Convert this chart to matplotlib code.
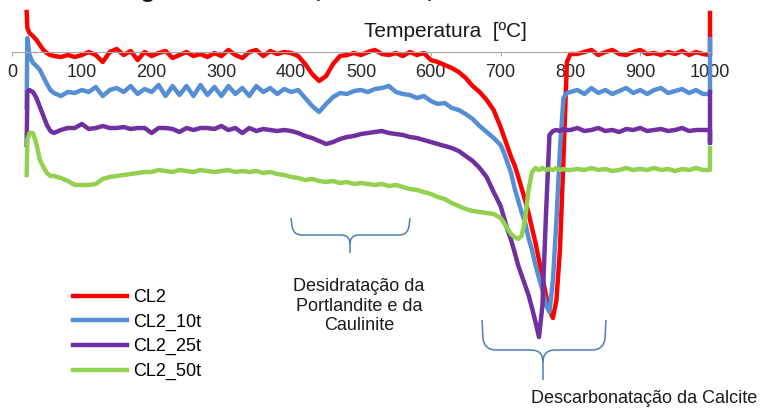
import numpy as np
import matplotlib.pyplot as plt
from matplotlib.path import Path
from matplotlib.patches import PathPatch
from matplotlib.transforms import Affine2D

plt.rcParams['font.family'] = ['Liberation Sans', 'DejaVu Sans']

W, H = 763, 408

# temperatura [ºC] (3 pontos em 1000 para o salto final)
temperatura = np.concatenate([[21, 22, 25, 30, 35, 40, 45, 50, 55, 60],
                              np.arange(70, 701, 10),
                              np.arange(705, 801, 5),
                              np.arange(810, 1001, 10),
                              [1000, 1000]])

cl2 = [
    0.40, 0.24, 0.19, 0.16, 0.12, 0.07, 0.02, -0.01, -0.03, -0.04,
    -0.05, -0.03, -0.05, -0.03, 0.00, -0.03, -0.10, 0.00, 0.03, -0.03,
    0.01, -0.08, 0.00, -0.04, -0.01, 0.01, -0.06, -0.03, 0.00, -0.04,
    -0.02, -0.05, -0.01, -0.04, 0.02, -0.03, -0.06, 0.00, 0.02, -0.04,
    0.01, -0.02, 0.00, -0.01,
    -0.04, -0.12, -0.22, -0.29, -0.24, -0.12, -0.04, -0.03, -0.01, -0.03,
    0.00, 0.02, -0.02, -0.03, -0.01, -0.04, 0.00, -0.03, -0.01, -0.08,
    -0.10, -0.13, -0.16, -0.20, -0.26, -0.34, -0.40, -0.48, -0.58, -0.75,
    -0.85, -0.95, -1.05, -1.13, -1.24, -1.36, -1.48, -1.61, -1.76, -1.91,
    -2.08, -2.26, -2.43, -2.58, -2.66, -2.48, -1.98, -1.08, -0.10, -0.02,
    -0.02, 0.00, 0.02, -0.03, 0.00, 0.02, -0.02, -0.03, 0.00, 0.02,
    -0.02, -0.01, -0.03, 0.00, -0.02, 0.01, -0.03, 0.00, -0.02, -0.03,
    -0.03, 0.39]

cl2_10t = [
    -0.55, 0.14, -0.03, -0.11, -0.14, -0.18, -0.25, -0.32, -0.38, -0.41,
    -0.44, -0.40, -0.41, -0.38, -0.40, -0.35, -0.44, -0.38, -0.36, -0.40,
    -0.34, -0.42, -0.37, -0.40, -0.33, -0.44, -0.34, -0.43, -0.34, -0.44,
    -0.33, -0.43, -0.35, -0.44, -0.34, -0.42, -0.36, -0.44, -0.34, -0.40,
    -0.36, -0.42, -0.37, -0.40,
    -0.38, -0.46, -0.54, -0.60, -0.52, -0.45, -0.41, -0.42, -0.39, -0.38,
    -0.40, -0.37, -0.36, -0.34, -0.40, -0.42, -0.43, -0.46, -0.44, -0.49,
    -0.52, -0.51, -0.56, -0.58, -0.62, -0.67, -0.74, -0.80, -0.86, -0.93,
    -1.01, -1.11, -1.21, -1.36, -1.48, -1.60, -1.70, -1.86, -1.98, -2.13,
    -2.26, -2.38, -2.53, -2.60, -2.28, -1.68, -0.98, -0.46, -0.41, -0.40,
    -0.38, -0.42, -0.36, -0.41, -0.38, -0.42, -0.39, -0.36, -0.41, -0.38,
    -0.42, -0.38, -0.36, -0.41, -0.39, -0.37, -0.41, -0.38, -0.42, -0.42,
    -0.42, 0.13]

cl2_25t = [
    -0.93, -0.40, -0.38, -0.40, -0.46, -0.55, -0.64, -0.73, -0.79, -0.81,
    -0.78, -0.76, -0.76, -0.72, -0.77, -0.76, -0.74, -0.76, -0.76, -0.75,
    -0.77, -0.76, -0.76, -0.81, -0.76, -0.76, -0.77, -0.80, -0.76, -0.78,
    -0.76, -0.76, -0.77, -0.74, -0.78, -0.76, -0.81, -0.76, -0.79, -0.77,
    -0.78, -0.79, -0.78, -0.79,
    -0.81, -0.84, -0.86, -0.89, -0.92, -0.90, -0.87, -0.85, -0.84, -0.82,
    -0.81, -0.80, -0.79, -0.81, -0.82, -0.83, -0.85, -0.86, -0.88, -0.90,
    -0.92, -0.94, -0.96, -0.99, -1.04, -1.09, -1.16, -1.25, -1.40, -1.54,
    -1.66, -1.78, -1.88, -2.00, -2.13, -2.23, -2.33, -2.43, -2.56, -2.70,
    -2.85, -2.53, -1.63, -0.83, -0.79, -0.78, -0.79, -0.77, -0.78, -0.78,
    -0.76, -0.79, -0.78, -0.76, -0.79, -0.78, -0.80, -0.77, -0.78, -0.76,
    -0.79, -0.78, -0.77, -0.79, -0.78, -0.76, -0.79, -0.78, -0.78, -0.78,
    -0.91, -0.40]

cl2_50t = [
    -1.23, -0.88, -0.81, -0.81, -0.92, -1.08, -1.15, -1.21, -1.24, -1.24,
    -1.26, -1.29, -1.33, -1.33, -1.33, -1.32, -1.27, -1.25, -1.24, -1.23,
    -1.22, -1.21, -1.20, -1.20, -1.18, -1.19, -1.20, -1.18, -1.19, -1.20,
    -1.18, -1.19, -1.20, -1.19, -1.18, -1.20, -1.19, -1.20, -1.19, -1.21,
    -1.20, -1.22, -1.23, -1.25,
    -1.26, -1.28, -1.27, -1.29, -1.30, -1.29, -1.31, -1.30, -1.32, -1.31,
    -1.32, -1.33, -1.32, -1.34, -1.33, -1.35, -1.37, -1.38, -1.40, -1.42,
    -1.45, -1.47, -1.51, -1.54, -1.57, -1.59, -1.60, -1.61, -1.62, -1.66,
    -1.71, -1.77, -1.82, -1.85, -1.87, -1.84, -1.68, -1.38, -1.20, -1.16,
    -1.18, -1.16, -1.18, -1.17, -1.18, -1.16, -1.18, -1.17, -1.18, -1.18,
    -1.17, -1.18, -1.16, -1.18, -1.17, -1.19, -1.18, -1.16, -1.18, -1.17,
    -1.18, -1.16, -1.18, -1.17, -1.19, -1.17, -1.18, -1.16, -1.18, -1.18,
    -1.18, -0.96]

series = [('CL2', cl2, '#ff0000'),
          ('CL2_10t', cl2_10t, '#558ed5'),
          ('CL2_25t', cl2_25t, '#7030a0'),
          ('CL2_50t', cl2_50t, '#92d050')]

fig = plt.figure(figsize=(W / 100, H / 100), dpi=100)
# eixo: 0 ºC em x=12 px, 1000 ºC em x=710 px; topo 10 px, base 350 px
ax = fig.add_axes([12 / W, 1 - 350 / H, 698 / W, 340 / H])
px = Affine2D().scale(1 / W, -1 / H).translate(0, 1) + fig.transFigure

for nome, valores, cor in series:
    ax.plot(temperatura, valores, color=cor, lw=3.2, label=nome,
            solid_joinstyle='round', clip_on=False)

ax.set_xlim(0, 1000)
ax.set_ylim(-2.98, 0.42)
ax.set_xticks(range(0, 1001, 100))
ax.set_yticks([])
for s in ['top', 'left', 'right']:
    ax.spines[s].set_visible(False)
ax.spines['bottom'].set_position(('data', 0))
ax.spines['bottom'].set_color('#a6a6a6')
ax.spines['bottom'].set_linewidth(0.8)
ax.tick_params(axis='x', direction='out', length=3, width=0.8,
               color='#a6a6a6', labelsize=13, pad=6, labelcolor='#262626')
ax.patch.set_visible(False)

ax.legend(loc='center left', bbox_to_anchor=(73 / W, 1 - 334.5 / H),
          bbox_transform=fig.transFigure, frameon=False, fontsize=13,
          handlelength=3.0, handletextpad=0.35, labelspacing=0.42,
          borderpad=0, borderaxespad=0)

# título cortado no topo da imagem original
fig.text(335, -3, 'DTG das argamassas CL2, CL2_10t, CL2_25t e CL2_50t',
         transform=px, ha='center', va='baseline', fontsize=18,
         fontweight='bold', color='#1a1a1a')
fig.text(445, 37, 'Temperatura  [ºC]', transform=px, ha='center',
         va='baseline', fontsize=15, color='#1a1a1a')


def chaveta(x0, x1, xt, ytop, ymid, ytip, r):
    verts = [(x0, ytop), (x0 + 1, ymid - r), (x0 + 2, ymid), (x0 + r + 2, ymid),
             (xt - r, ymid), (xt, ymid), (xt, ymid + r), (xt, ytip),
             (xt, ymid + r), (xt, ymid), (xt + r, ymid),
             (x1 - r - 2, ymid), (x1 - 2, ymid), (x1 - 1, ymid - r), (x1, ytop)]
    codes = [Path.MOVETO, Path.LINETO, Path.CURVE3, Path.CURVE3,
             Path.LINETO, Path.CURVE3, Path.CURVE3, Path.LINETO,
             Path.MOVETO, Path.CURVE3, Path.CURVE3,
             Path.LINETO, Path.CURVE3, Path.CURVE3, Path.LINETO]
    fig.add_artist(PathPatch(Path(verts, codes), transform=px, fill=False,
                             edgecolor='#4a7ebb', lw=1.1))


chaveta(291, 410, 350, 218, 235, 253, 9)
chaveta(482, 606, 543, 320, 350, 380, 12)

fig.text(359, 330, 'Desidratação da\nPortlandite e da\nCaulinite',
         transform=px, ha='center', va='baseline', fontsize=13,
         linespacing=1.18, color='#1a1a1a')
fig.text(644, 403, 'Descarbonatação da Calcite', transform=px, ha='center',
         va='baseline', fontsize=13, color='#1a1a1a')

fig.savefig('out.png', dpi=100)
